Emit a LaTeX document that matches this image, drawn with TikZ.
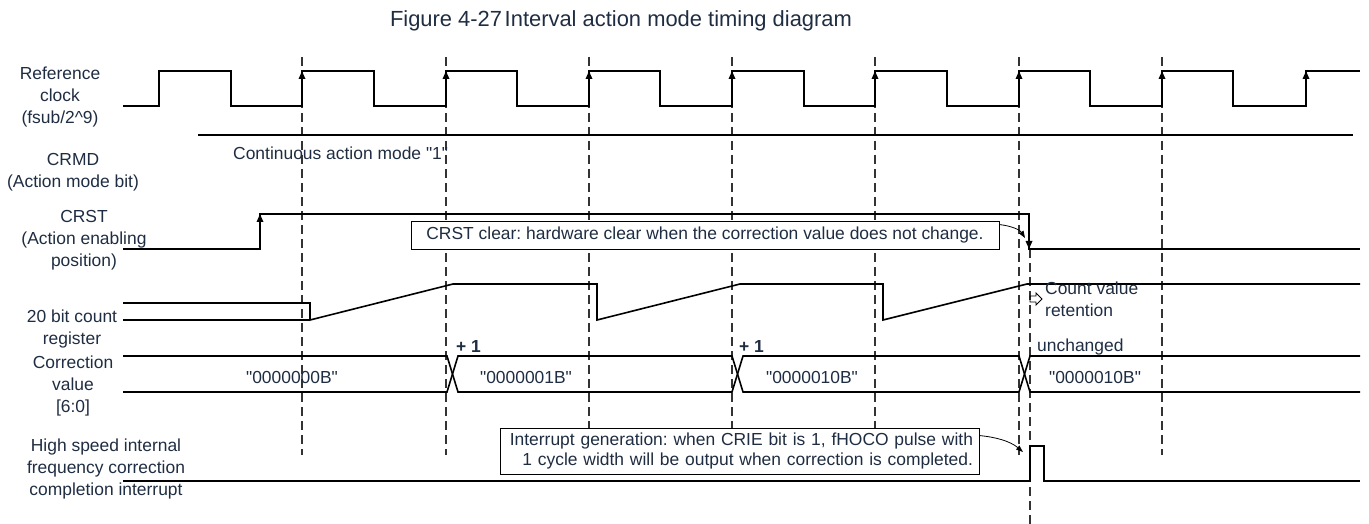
\documentclass[tikz,border=0pt]{standalone}
\usepackage{fontspec}
\setmainfont{Liberation Sans}[Ligatures=TeXOff]
\usetikzlibrary{arrows.meta}
\definecolor{txt}{RGB}{31,45,66}
\frenchspacing
\begin{document}
\begin{tikzpicture}[x=1bp,y=-1bp,
  sig/.style={line width=1.6bp, black},
  gridline/.style={line width=1.2bp, dash pattern=on 9bp off 5bp, black!80},
  lbl/.style={font=\fontsize{17.5}{22}\selectfont, text=txt, align=center, inner sep=0pt},
  ttl/.style={font=\fontsize{22}{26}\selectfont, text=txt, inner sep=0pt},
  uptip/.style={-{Triangle[length=8bp,width=6.5bp]}},
  notebox/.style={draw, line width=0.9bp, fill=white, font=\fontsize{17.5}{21}\selectfont, text=txt, inner sep=0pt},
  notearrow/.style={line width=0.8bp, -{Triangle[length=7bp,width=5bp]}}]
\useasboundingbox (0,0) rectangle (1369,524);

% title
\node[ttl] (title) at (621,21) {Figure 4-27\hspace{0.12em}Interval action mode timing diagram};

% signal names
\node[lbl] (refclk) at (60,97) {Reference\\clock\\(fsub/2\textasciicircum 9)};
\node[lbl] (crmd) at (73,172) {CRMD\\(Action mode bit)};
\node[lbl] (crst) at (84,240) {CRST\\(Action enabling\\position)};
\node[lbl] (cnt) at (72,329) {20 bit count\\register};
\node[lbl] (corr) at (73,386) {Correction\\value\\{[6:0]}};
\node[lbl] (hsi) at (106,469) {High speed internal\\frequency correction\\completion interrupt};

% dashed timing lines
\foreach \x in {302,446,589,732,875,1019,1162}
  \draw[gridline] (\x,57) -- (\x,455);
\draw[gridline] (1030,249) -- (1030,524);

% reference clock
\draw[sig] (123,106) -| (159,71) -| (231,106) -| (302,71) -| (374,106) -| (446,71)
  -| (517,106) -| (589,71) -| (660,106) -| (732,71) -| (804,106) -| (875,71)
  -| (947,106) -| (1019,71) -| (1090,106) -| (1162,71) -| (1233,106) -| (1306,71) -- (1360,71);
\foreach \x in {302,446,589,732,875,1019,1162,1306}
  \draw[sig,uptip] (\x,106) -- (\x,71);

% CRMD
\draw[sig] (198,135) -- (1353,135);
\node[lbl, anchor=west] (cont) at (233,153) {Continuous action mode "1"};

% CRST
\draw[sig] (123,249) -| (260,214) -| (1029,249) -- (1360,249);
\draw[sig,uptip] (260,249) -- (260,214);
\draw[sig,uptip] (1029,214) -- (1029,249);

% 20 bit count register
\draw[sig] (123,303) -- (310,303) -- (310,320) -- (453,284) -- (597,284) -- (597,320)
  -- (740,284) -- (883,284) -- (883,320) -- (1027,284) -- (1360,284);
\draw[sig] (123,320) -- (310,320);
\draw[line width=0.9bp] (1030,296) -- (1036,296) -- (1036,293) -- (1042,299) -- (1036,305) -- (1036,302) -- (1030,302) -- cycle;
\node[lbl, anchor=west, align=left] (ret) at (1045,299) {Count value\\retention};

% correction value bus
\draw[sig] (123,356) -- (447,356) -- (458,392) -- (732,392) -- (743,356) -- (1019,356) -- (1030,392) -- (1360,392);
\draw[sig] (123,392) -- (447,392) -- (458,356) -- (732,356) -- (743,392) -- (1019,392) -- (1030,356) -- (1360,356);
\node[lbl] (v0) at (292,377) {"0000000B"};
\node[lbl] (v1) at (526,377) {"0000001B"};
\node[lbl] (v2) at (812,377) {"0000010B"};
\node[lbl] (v3) at (1095,377) {"0000010B"};
\node[lbl, font=\fontsize{17.5}{22}\selectfont\bfseries, anchor=west] (p1) at (456,347) {+ 1};
\node[lbl, font=\fontsize{17.5}{22}\selectfont\bfseries, anchor=west] (p2) at (739,347) {+ 1};
\node[lbl, anchor=west] (unch) at (1037,347) {unchanged};

% interrupt
\draw[sig] (123,481) -- (1030,481) -- (1030,446) -- (1044,446) -- (1044,481) -- (1360,481);

% annotation boxes
\node[notebox, minimum width=588bp, minimum height=28bp] (crstbox) at (705,235)
  {CRST clear: hardware clear when the correction value does not change.};
\coordinate (crsttgt) at (1025,238);
\draw[notearrow] ([yshift=-4bp]crstbox.north east) .. controls (1012,226) and (1020,230) .. (crsttgt);

\node[notebox, minimum height=46bp, text width=467bp, inner xsep=6bp, align=right] (intbox) at (739.5,451)
  {Interrupt generation: when CRIE bit is 1, fHOCO pulse with\\1 cycle width will be output when correction is completed.};
\coordinate (inttgt) at (1023,452);
\draw[notearrow] ([yshift=-8bp]intbox.north east) .. controls (995,437) and (1010,441) .. (inttgt);
\end{tikzpicture}
\end{document}
